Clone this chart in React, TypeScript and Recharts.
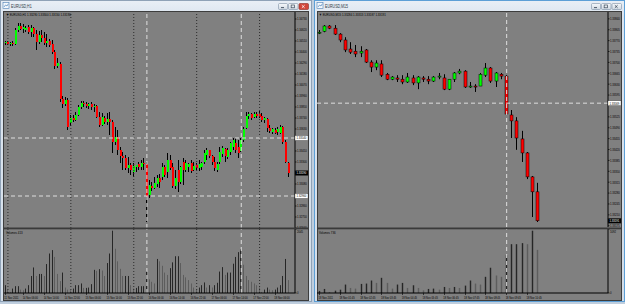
import React from 'react';
import { ComposedChart, BarChart, Bar, XAxis, YAxis, ReferenceLine } from 'recharts';

const FONT = '"Liberation Sans", Arial, sans-serif';
const AXIS_W = 14;

// ---------- EURUSD,H1 (left window) ----------
const h1Open = [
  1.3449, 1.3450, 1.3448, 1.3449, 1.3448, 1.3462, 1.3466, 1.3463, 1.3462, 1.3465,
  1.3460, 1.3464, 1.3458, 1.3450, 1.3457, 1.3454, 1.3449, 1.3451, 1.3448, 1.3440,
  1.3426, 1.3428, 1.3393, 1.3388, 1.3392, 1.3369, 1.3374, 1.3372, 1.3377, 1.3385,
  1.3389, 1.3388, 1.3386, 1.3388, 1.3385, 1.3386, 1.3375, 1.3367, 1.3374, 1.3370,
  1.3373, 1.3370, 1.3350, 1.3355, 1.3342, 1.3336, 1.3334, 1.3324, 1.3327, 1.3320,
  1.3325, 1.3328, 1.3325, 1.3329, 1.3328, 1.3297, 1.3306, 1.3304, 1.3308, 1.3314,
  1.3315, 1.3325, 1.3320, 1.3332, 1.3325, 1.3306, 1.3322, 1.3310, 1.3330, 1.3322,
  1.3325, 1.3329, 1.3322, 1.3327, 1.3324, 1.3325, 1.3330, 1.3337, 1.3342, 1.3336,
  1.3330, 1.3322, 1.3330, 1.3338, 1.3343, 1.3335, 1.3340, 1.3345, 1.3349, 1.3345,
  1.3341, 1.3352, 1.3364, 1.3376, 1.3378, 1.3375, 1.3378, 1.3378, 1.3376, 1.3372,
  1.3373, 1.3364, 1.3360, 1.3362, 1.3360, 1.3359, 1.3365, 1.3350, 1.3329,
];
const h1High = [
  1.3451, 1.3451, 1.3450, 1.3451, 1.3464, 1.3469, 1.3469, 1.3468, 1.3466, 1.3467,
  1.3467, 1.3465, 1.3462, 1.3461, 1.3462, 1.3460, 1.3458, 1.3453, 1.3452, 1.3442,
  1.3434, 1.3430, 1.3396, 1.3395, 1.3394, 1.3377, 1.3377, 1.3380, 1.3387, 1.3391,
  1.3391, 1.3390, 1.3389, 1.3390, 1.3388, 1.3387, 1.3380, 1.3379, 1.3376, 1.3379,
  1.3380, 1.3372, 1.3365, 1.3362, 1.3345, 1.3340, 1.3337, 1.3335, 1.3329, 1.3329,
  1.3327, 1.3330, 1.3332, 1.3334, 1.3330, 1.3312, 1.3310, 1.3315, 1.3317, 1.3318,
  1.3329, 1.3327, 1.3339, 1.3337, 1.3329, 1.3322, 1.3332, 1.3326, 1.3334, 1.3332,
  1.3329, 1.3332, 1.3330, 1.3329, 1.3332, 1.3330, 1.3342, 1.3344, 1.3342, 1.3337,
  1.3335, 1.3330, 1.3345, 1.3346, 1.3344, 1.3344, 1.3350, 1.3354, 1.3354, 1.3352,
  1.3354, 1.3365, 1.3380, 1.3380, 1.3379, 1.3380, 1.3380, 1.3381, 1.3379, 1.3375,
  1.3374, 1.3367, 1.3364, 1.3364, 1.3365, 1.3367, 1.3366, 1.3352, 1.3330,
];
const h1Low = [
  1.3447, 1.3447, 1.3446, 1.3446, 1.3447, 1.3460, 1.3462, 1.3459, 1.3460, 1.3458,
  1.3455, 1.3455, 1.3442, 1.3448, 1.3450, 1.3447, 1.3445, 1.3445, 1.3438, 1.3423,
  1.3424, 1.3390, 1.3384, 1.3386, 1.3362, 1.3366, 1.3370, 1.3371, 1.3376, 1.3383,
  1.3385, 1.3384, 1.3383, 1.3382, 1.3380, 1.3374, 1.3365, 1.3366, 1.3368, 1.3367,
  1.3357, 1.3339, 1.3347, 1.3337, 1.3329, 1.3322, 1.3322, 1.3319, 1.3317, 1.3315,
  1.3320, 1.3322, 1.3322, 1.3322, 1.3270, 1.3294, 1.3301, 1.3303, 1.3305, 1.3304,
  1.3312, 1.3315, 1.3314, 1.3322, 1.3304, 1.3303, 1.3300, 1.3308, 1.3307, 1.3320,
  1.3320, 1.3319, 1.3321, 1.3322, 1.3321, 1.3322, 1.3328, 1.3332, 1.3334, 1.3327,
  1.3321, 1.3320, 1.3328, 1.3335, 1.3330, 1.3333, 1.3337, 1.3342, 1.3339, 1.3334,
  1.3340, 1.3350, 1.3363, 1.3373, 1.3372, 1.3374, 1.3374, 1.3374, 1.3370, 1.3369,
  1.3360, 1.3359, 1.3358, 1.3358, 1.3357, 1.3358, 1.3348, 1.3329, 1.3315,
];
const h1Close = [
  1.3450, 1.3448, 1.3449, 1.3448, 1.3462, 1.3466, 1.3463, 1.3465, 1.3464, 1.3460,
  1.3464, 1.3458, 1.3450, 1.3457, 1.3454, 1.3449, 1.3451, 1.3447, 1.3440, 1.3426,
  1.3429, 1.3393, 1.3388, 1.3392, 1.3365, 1.3374, 1.3372, 1.3377, 1.3385, 1.3389,
  1.3388, 1.3386, 1.3388, 1.3385, 1.3386, 1.3375, 1.3367, 1.3375, 1.3370, 1.3373,
  1.3370, 1.3350, 1.3355, 1.3342, 1.3336, 1.3334, 1.3324, 1.3327, 1.3322, 1.3326,
  1.3327, 1.3325, 1.3329, 1.3328, 1.3295, 1.3307, 1.3304, 1.3309, 1.3314, 1.3310,
  1.3325, 1.3317, 1.3332, 1.3324, 1.3306, 1.3314, 1.3310, 1.3325, 1.3322, 1.3329,
  1.3328, 1.3321, 1.3326, 1.3324, 1.3328, 1.3329, 1.3339, 1.3342, 1.3336, 1.3330,
  1.3324, 1.3328, 1.3340, 1.3344, 1.3336, 1.3342, 1.3349, 1.3352, 1.3342, 1.3339,
  1.3352, 1.3363, 1.3376, 1.3378, 1.3374, 1.3378, 1.3376, 1.3375, 1.3372, 1.3374,
  1.3364, 1.3361, 1.3363, 1.3359, 1.3363, 1.3365, 1.3350, 1.3330, 1.3319,
];
const h1Volume = [
  250, 109, 33, 141, 218, 218, 109, 87, 141, 250,
  544, 816, 544, 609, 609, 544, 925, 1262, 1371, 1153,
  609, 381, 653, 174, 109, 87, 141, 250, 250, 305,
  163, 163, 174, 283, 740, 707, 762, 718, 544, 957,
  1262, 1991, 1414, 1012, 772, 544, 544, 544, 250, 141,
  163, 218, 218, 218, 707, 435, 359, 305, 1088, 1012,
  870, 653, 577, 794, 979, 1175, 1175, 957, 577, 500,
  413, 305, 174, 109, 174, 250, 337, 174, 250, 174,
  250, 326, 685, 827, 577, 653, 653, 936, 1153, 1306,
  1393, 903, 544, 413, 359, 305, 250, 174, 33, 109,
  174, 109, 87, 109, 174, 250, 544, 1088, 413,
];
const h1TickBars = [0, 7, 15, 23, 31, 39, 47, 55, 63, 71, 79, 87, 95, 103];
const h1TickLabels = [
  '11 Nov 2011', '14 Nov 06:00', '14 Nov 14:00', '14 Nov 22:00', '15 Nov 06:00',
  '15 Nov 14:00', '15 Nov 22:00', '16 Nov 06:00', '16 Nov 14:00', '16 Nov 22:00',
  '17 Nov 06:00', '17 Nov 14:00', '17 Nov 22:00', '18 Nov 06:00',
];
const h1DayStarts = [1, 25, 49, 73, 97];
const h1MarkBars = [54, 90];
const h1PriceTicks = [
  1.3473, 1.3462, 1.3451, 1.344, 1.3429, 1.3418, 1.3407, 1.3396, 1.3385, 1.3374,
  1.3363, 1.3341, 1.333, 1.3308, 1.3286, 1.3275, 1.3264,
];
const h1Levels = [1.3354, 1.3296];
const h1VolMax = 2045;

// ---------- EURUSD,M15 (right window) ----------
const m15Open = [
  1.33794, 1.338, 1.33817, 1.3381, 1.33791, 1.33772, 1.33743, 1.33736, 1.3373, 1.3374,
  1.33701, 1.33685, 1.33695, 1.33662, 1.33646, 1.3365, 1.33646, 1.33637, 1.3365, 1.33634,
  1.3365, 1.33646, 1.3364, 1.33653, 1.3365, 1.33614, 1.33646, 1.33666, 1.33672, 1.33621,
  1.33624, 1.33624, 1.33659, 1.33682, 1.3364, 1.33662, 1.33656, 1.33531, 1.33512, 1.33454,
  1.33409, 1.33332, 1.33284,
];
const m15High = [
  1.33804, 1.3382, 1.3382, 1.3382, 1.33794, 1.33781, 1.33765, 1.33756, 1.33752, 1.33743,
  1.33707, 1.33707, 1.33707, 1.33666, 1.33656, 1.33659, 1.33659, 1.33666, 1.33659, 1.33656,
  1.33656, 1.33656, 1.33656, 1.33666, 1.33662, 1.33646, 1.33669, 1.33679, 1.33675, 1.33637,
  1.3363, 1.33666, 1.33698, 1.33685, 1.33669, 1.33666, 1.33659, 1.33547, 1.33524, 1.3348,
  1.33412, 1.33335, 1.33313,
];
const m15Low = [
  1.33791, 1.33797, 1.33807, 1.33788, 1.33765, 1.33733, 1.33727, 1.33717, 1.33717, 1.33698,
  1.33669, 1.33675, 1.33653, 1.33643, 1.33643, 1.33637, 1.3363, 1.33634, 1.33627, 1.33614,
  1.33637, 1.3363, 1.33637, 1.33646, 1.33611, 1.33611, 1.33637, 1.33662, 1.33618, 1.33618,
  1.33605, 1.33624, 1.33653, 1.33634, 1.33621, 1.33646, 1.33531, 1.33457, 1.33419, 1.3338,
  1.33325, 1.33203, 1.33187,
];
const m15Close = [
  1.33797, 1.33817, 1.3381, 1.33791, 1.33772, 1.3374, 1.33733, 1.33727, 1.33736, 1.33701,
  1.33685, 1.33698, 1.33659, 1.33646, 1.33653, 1.33646, 1.33637, 1.33653, 1.33634, 1.33653,
  1.33646, 1.3364, 1.33653, 1.33656, 1.33614, 1.33646, 1.33666, 1.33672, 1.33621, 1.33624,
  1.33621, 1.33662, 1.33682, 1.3364, 1.33666, 1.33656, 1.33534, 1.33512, 1.33457, 1.33409,
  1.33332, 1.33284, 1.33191,
];
const m15Volume = [
  35, 69, 17, 40, 57, 144, 86, 75, 155, 161,
  213, 172, 259, 172, 75, 144, 172, 86, 132, 86,
  46, 69, 75, 57, 103, 86, 103, 86, 126, 213,
  161, 144, 276, 431, 299, 276, 644, 833, 833, 851,
  833, 1063, 736,
];
const m15TickBars = [0, 4, 8, 12, 16, 20, 24, 28, 32, 36, 40];
const m15TickLabels = [
  '18 Nov 2011', '18 Nov 01:45', '18 Nov 02:45', '18 Nov 03:45', '18 Nov 04:45', '18 Nov 05:45',
  '18 Nov 06:45', '18 Nov 07:45', '18 Nov 08:45', '18 Nov 09:45', '18 Nov 10:45',
];
const m15MarkBars = [36];
const m15PriceTicks = [
  1.3384, 1.33805, 1.3377, 1.33735, 1.337, 1.33665, 1.3363, 1.33595, 1.33525, 1.3349,
  1.33455, 1.3342, 1.33385, 1.3335, 1.33315, 1.3328, 1.33245, 1.3321, 1.33175,
];
const m15Levels = [1.33569];
const m15VolMax = 1092;

type Row = { i: number; o?: number; h?: number; l?: number; c?: number; v?: number; up?: boolean };
type Tag = { value: number; bg: string; fg: string };

// condensed tiny text: drawn at 4px and squeezed horizontally, like the terminal's small font
function Tiny({ x, y, children, fill = '#000', size = 4, sx = 0.72 }: { x: number; y: number; children: React.ReactNode; fill?: string; size?: number; sx?: number }) {
  return (
    <text transform={`translate(${x} ${y}) scale(${sx} 1)`} x={0} y={0} fontSize={size} fontFamily={FONT} fill={fill}>
      {children}
    </text>
  );
}

function Candle(props: any) {
  const { x, y, width, height, payload, bodyWidth, outline } = props;
  if (!payload || payload.o == null) return null;
  const { o, h, l, c } = payload as Required<Row>;
  const top = Math.min(y, y + height);
  const span = Math.abs(height);
  const k = h > l ? span / (h - l) : 0;
  const px = Math.round(x + width / 2 - 0.5);
  const py = (v: number) => top + (h - v) * k;
  const bTop = py(Math.max(o, c));
  const bH = Math.max(1, py(Math.min(o, c)) - bTop);
  const bx = px - Math.floor((bodyWidth - 1) / 2);
  return (
    <g>
      <line x1={px + 0.5} x2={px + 0.5} y1={top} y2={top + Math.max(span, 1)} stroke="#000" strokeWidth={1} />
      <rect
        x={bx}
        y={bTop}
        width={bodyWidth}
        height={bH}
        fill={c >= o ? '#00ff00' : '#ff0000'}
        stroke={outline ? '#000' : 'none'}
        strokeWidth={0.5}
      />
    </g>
  );
}

function VolBar(props: any) {
  const { x, y, width, height, payload, w } = props;
  if (!payload || payload.v == null || !(height > 0)) return null;
  const px = Math.round(x + width / 2 - 0.5);
  return <rect x={px + 0.5 - w / 2} y={y} width={w} height={height} fill={payload.up ? '#262626' : '#5d5d5d'} />;
}

function PriceTick(props: any) {
  const { x, y, payload, tags } = props;
  const v: number = payload.value;
  const tag = (tags as Tag[]).find((t) => Math.abs(t.value - v) < 1e-7);
  const text = v.toFixed(5);
  if (tag) {
    return (
      <g>
        <rect x={x - 2} y={y - 2.4} width={13} height={4.8} fill={tag.bg} stroke="#222" strokeWidth={0.3} />
        <Tiny x={x - 0.6} y={y + 1.4} fill={tag.fg} size={3.8}>{text}</Tiny>
      </g>
    );
  }
  return <Tiny x={x} y={y + 1.4} size={3.8}>{text}</Tiny>;
}

function VolTick(props: any) {
  const { x, y, payload } = props;
  const v: number = payload.value;
  // the scale maximum sits just under the pane separator
  return <Tiny x={x} y={v === 0 ? y + 0.8 : y + 4.2} size={3.8}>{String(v)}</Tiny>;
}

function TimeTick(props: any) {
  const { x, y, payload, labels } = props;
  const label: string | undefined = labels.get(payload.value);
  if (!label) return null;
  const lx = Math.round(x - 0.5) + 0.5;
  return (
    <g>
      <line x1={lx} x2={lx} y1={y - 1} y2={y + 1} stroke="#000" strokeWidth={0.6} />
      <Tiny x={x - 1} y={y + 4.6} size={3.8} sx={0.68}>{label}</Tiny>
    </g>
  );
}

interface PaneProps {
  left: number;
  priceHeight: number;
  plotWidth: number;
  slots: number;
  open: number[];
  high: number[];
  low: number[];
  close: number[];
  volume: number[];
  domain: [number, number];
  priceTicks: number[];
  levels: number[];
  volMax: number;
  tickBars: number[];
  tickLabels: string[];
  daySeps: number[];
  markBars: number[];
  barSize: number;
  bodyWidth: number;
  outline: boolean;
  volWidth: number;
}

function Pane(p: PaneProps) {
  const rows: Row[] = [];
  for (let i = 0; i < p.slots; i++) {
    if (i < p.open.length) {
      rows.push({
        i,
        o: p.open[i],
        h: p.high[i],
        l: p.low[i],
        c: p.close[i],
        v: p.volume[i],
        up: i === 0 || p.volume[i] >= p.volume[i - 1],
      });
    } else {
      rows.push({ i });
    }
  }
  const labels = new Map<number, string>(p.tickBars.map((b, k) => [b, p.tickLabels[k]]));
  const tags: Tag[] = [
    ...p.levels.map((v) => ({ value: v, bg: '#ffffff', fg: '#000000' })),
    { value: p.close[p.close.length - 1], bg: '#000000', fg: '#ffffff' },
  ];
  const chartW = p.plotWidth + AXIS_W;
  const margin = { top: 0, right: 0, bottom: 0, left: 0 };

  const vLines = [
    ...p.daySeps.map((d) => (
      <ReferenceLine key={`d${d}`} x={d} stroke="#2b2b2b" strokeDasharray="1 2" strokeWidth={1} />
    )),
    ...p.markBars.map((d) => (
      <ReferenceLine key={`m${d}`} x={d} stroke="#dedede" strokeDasharray="4 3" strokeWidth={1} />
    )),
  ];

  return (
    <>
      <div style={{ position: 'absolute', left: p.left, top: 12 }}>
        {/* 3px of bottom margin leaves room for the lowest price label */}
        <ComposedChart
          width={chartW}
          height={p.priceHeight + 3}
          data={rows}
          margin={{ top: 0, right: 0, bottom: 3, left: 0 }}
          barCategoryGap={0}
        >
          <XAxis dataKey="i" type="category" hide />
          <YAxis
            orientation="right"
            type="number"
            width={AXIS_W}
            domain={p.domain}
            allowDataOverflow
            ticks={[...p.priceTicks, ...tags.map((t) => t.value)]}
            interval={0}
            tickSize={1.5}
            tickMargin={0.5}
            axisLine={{ stroke: '#000' }}
            tickLine={{ stroke: '#000', strokeWidth: 0.7 }}
            tick={(tp: any) => <PriceTick {...tp} tags={tags} />}
          />
          {vLines}
          {p.levels.map((v) => (
            <ReferenceLine key={`h${v}`} y={v} stroke="#dedede" strokeDasharray="4 3" strokeWidth={1} />
          ))}
          <Bar
            dataKey={(d: Row) => (d.o == null ? null : [d.l, d.h])}
            barSize={p.barSize}
            isAnimationActive={false}
            shape={(sp: any) => <Candle {...sp} bodyWidth={p.bodyWidth} outline={p.outline} />}
          />
        </ComposedChart>
      </div>
      <div style={{ position: 'absolute', left: p.left, top: 229 }}>
        <BarChart width={chartW} height={71} data={rows} margin={margin} barCategoryGap={0}>
          <XAxis
            dataKey="i"
            type="category"
            height={7}
            interval={0}
            tickSize={1}
            tickMargin={0}
            axisLine={{ stroke: '#000' }}
            tickLine={false}
            tick={(tp: any) => <TimeTick {...tp} labels={labels} />}
          />
          <YAxis
            orientation="right"
            type="number"
            width={AXIS_W}
            domain={[0, p.volMax]}
            allowDataOverflow
            ticks={[0, p.volMax]}
            interval={0}
            tickSize={1.5}
            tickMargin={0.5}
            axisLine={{ stroke: '#000' }}
            tickLine={{ stroke: '#000', strokeWidth: 0.7 }}
            tick={(tp: any) => <VolTick {...tp} />}
          />
          {vLines}
          <Bar
            dataKey="v"
            barSize={p.barSize}
            isAnimationActive={false}
            shape={(sp: any) => <VolBar {...sp} w={p.volWidth} />}
          />
        </BarChart>
      </div>
    </>
  );
}

function Button({ x, w, kind, red }: { x: number; w: number; kind: 'min' | 'max' | 'close'; red?: boolean }) {
  const cx = x + w / 2;
  const glyph = red ? '#fff' : '#3c4a5a';
  return (
    <g>
      <rect x={x + 0.5} y={3.5} width={w} height={6} rx={1} fill={red ? '#d2473b' : 'url(#btn)'} stroke={red ? '#8b2b23' : '#7e90a5'} strokeWidth={0.6} />
      {kind === 'min' && <line x1={cx - 1.5} x2={cx + 1.5} y1={7.6} y2={7.6} stroke={glyph} strokeWidth={0.9} />}
      {kind === 'max' && <rect x={cx - 1.6} y={5} width={3.2} height={2.8} fill="none" stroke={glyph} strokeWidth={0.7} />}
      {kind === 'close' && (
        <g stroke={glyph} strokeWidth={0.8}>
          <line x1={cx - 1.4} x2={cx + 1.4} y1={5.2} y2={7.9} />
          <line x1={cx + 1.4} x2={cx - 1.4} y1={5.2} y2={7.9} />
        </g>
      )}
    </g>
  );
}

function WindowFrame({ x, w, title, active, red }: { x: number; w: number; title: string; active: boolean; red?: boolean }) {
  const right = x + w;
  return (
    <g>
      <rect x={x + 0.5} y={0.5} width={w - 1} height={301} fill="url(#tb)" stroke={active ? '#5d9fd6' : '#8fa2b7'} />
      <rect x={x + 3} y={2.5} width={6} height={6} fill="#f4f8fc" stroke="#4c7fb5" strokeWidth={0.6} />
      <polyline points={`${x + 4},${7} ${x + 5.5},${5} ${x + 7},${6} ${x + 8.3},${3.8}`} fill="none" stroke="#2f6fb0" strokeWidth={0.6} />
      <Tiny x={x + 11} y={8.3} size={4.6} sx={0.78} fill="#2e3a46">{title}</Tiny>
      <Button x={right - 34} w={9} kind="min" />
      <Button x={right - 24} w={9.5} kind="max" />
      <Button x={right - 13.5} w={9.5} kind="close" red={red} />
      <rect x={x + 3.5} y={11.5} width={w - 7} height={289} fill="#808080" stroke="#3d3d3d" strokeWidth={1} />
    </g>
  );
}

const fmt = (v: number) => v.toFixed(5);
const last = (a: number[]) => a[a.length - 1];

export default function App() {
  const h1Head = `\u25BC EURUSD,H1  ${fmt(last(h1Open))} ${fmt(last(h1High))} ${fmt(last(h1Low))} ${fmt(last(h1Close))}`;
  const m15Head = `\u25BC EURUSD,M15  ${fmt(last(m15Open))} ${fmt(last(m15High))} ${fmt(last(m15Low))} ${fmt(last(m15Close))}`;
  return (
    <div style={{ position: 'fixed', left: 0, top: 0, width: 625, height: 304, overflow: 'hidden', background: '#bfcede' }}>
      <svg width={625} height={304} style={{ position: 'absolute', left: 0, top: 0 }}>
        <defs>
          <linearGradient id="tb" x1="0" y1="0" x2="0" y2="1">
            <stop offset="0" stopColor="#e9eff6" />
            <stop offset="0.05" stopColor="#dce5ef" />
            <stop offset="1" stopColor="#d3dde8" />
          </linearGradient>
          <linearGradient id="btn" x1="0" y1="0" x2="0" y2="1">
            <stop offset="0" stopColor="#f7f9fb" />
            <stop offset="1" stopColor="#cfd8e2" />
          </linearGradient>
        </defs>
        <rect width={625} height={304} fill="#bfcede" />
        <WindowFrame x={0} w={312} title="EURUSD,H1" active={false} red />
        <WindowFrame x={314} w={311} title="EURUSD,M15" active />
      </svg>

      <Pane
        left={4}
        priceHeight={216}
        plotWidth={291}
        slots={111}
        open={h1Open}
        high={h1High}
        low={h1Low}
        close={h1Close}
        volume={h1Volume}
        domain={[1.3264, 1.348]}
        priceTicks={h1PriceTicks}
        levels={h1Levels}
        volMax={h1VolMax}
        tickBars={h1TickBars}
        tickLabels={h1TickLabels}
        daySeps={h1DayStarts}
        markBars={h1MarkBars}
        barSize={2}
        bodyWidth={2}
        outline={false}
        volWidth={1}
      />
      <Pane
        left={317}
        priceHeight={215}
        plotWidth={291}
        slots={56}
        open={m15Open}
        high={m15High}
        low={m15Low}
        close={m15Close}
        volume={m15Volume}
        domain={[1.33171, 1.33862]}
        priceTicks={m15PriceTicks}
        levels={m15Levels}
        volMax={m15VolMax}
        tickBars={m15TickBars}
        tickLabels={m15TickLabels}
        daySeps={[]}
        markBars={m15MarkBars}
        barSize={3}
        bodyWidth={3}
        outline
        volWidth={1.4}
      />

      <svg width={625} height={304} style={{ position: 'absolute', left: 0, top: 0, pointerEvents: 'none' }}>
        <rect x={4} y={227.5} width={305} height={1.8} fill="#3a3a3a" />
        <rect x={317} y={227.5} width={305} height={1.8} fill="#3a3a3a" />
        <Tiny x={6} y={16.3}>{h1Head}</Tiny>
        <Tiny x={319} y={16.3}>{m15Head}</Tiny>
        <Tiny x={6} y={234}>{`Volumes ${last(h1Volume)}`}</Tiny>
        <Tiny x={319} y={234}>{`Volumes ${last(m15Volume)}`}</Tiny>
      </svg>
    </div>
  );
}
